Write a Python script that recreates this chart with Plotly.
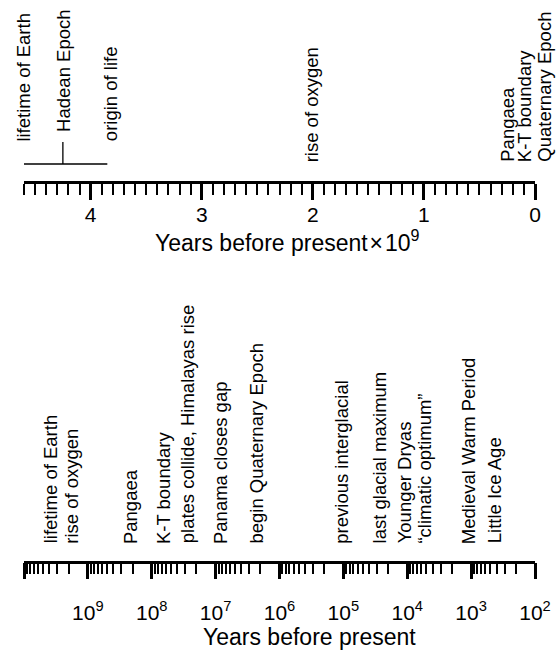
import plotly.graph_objects as go
import math

# ---------------- data ----------------
# Top panel (linear, years before present x 10^9)
top_labels = ["lifetime of Earth", "Hadean Epoch", "origin of life", "rise of oxygen",
              "Pangaea", "K-T boundary", "Quaternary Epoch"]
top_ages = [4.59, 4.25, 3.82, 2.0, 0.25, 0.066, 0.0026]
hadean_span = [4.6, 3.85]
hadean_mark = 4.25
top_tickvals = [4, 3, 2, 1, 0]
top_ticktext = ["4", "3", "2", "1", "0"]
top_minor_vals = [round(i * 0.1, 1) for i in range(47)]

# Bottom panel (log, years before present)
bottom_labels = ["lifetime of Earth", "rise of oxygen", "Pangaea", "K-T boundary",
                 "plates collide, Himalayas rise", "Panama closes gap",
                 "begin Quaternary Epoch", "previous interglacial",
                 "last glacial maximum", "Younger Dryas", "\u201cclimatic optimum\u201d",
                 "Medieval Warm Period", "Little Ice Age"]
bottom_ages = [3.9e9, 1.8e9, 2.2e8, 6.7e7, 2.8e7, 8.6e6, 2.3e6, 1.05e5,
               2.7e4, 1.1e4, 5.3e3, 1.1e3, 4.3e2]
bottom_tickvals = [1e10, 1e9, 1e8, 1e7, 1e6, 1e5, 1e4, 1e3, 1e2]
bottom_ticktext = ["", "10<sup>9</sup>", "10<sup>8</sup>", "10<sup>7</sup>", "10<sup>6</sup>",
                   "10<sup>5</sup>", "10<sup>4</sup>", "10<sup>3</sup>", "10<sup>2</sup>"]
bottom_minor_vals = [k * 10 ** n for n in range(2, 10) for k in range(2, 10)]

top_title = "Years before present\u200a\u00d7\u200a10<sup>9</sup>"
bottom_title = "Years before present"

# ---------------- layout / style ----------------
W, H = 557, 655
ML, MR = 24, 22
FONT = "Liberation Sans, Arial, Helvetica, sans-serif"
top_axis_px = 181.0
bot_top_px, bot_axis_px = 290.0, 560.7

# per-label style offsets (pixels)
top_xshift = [-2, 0, 0, -1, 0, -3, 9]
top_ybase = [38, 48, 39, 18, 18, 18, 18]
bottom_ybase = 16

def py2paper(py):
    return 1 - py / H

fig = go.Figure()
fig.add_trace(go.Scatter(x=[2], y=[100], mode="markers", marker=dict(opacity=0),
                         xaxis="x", yaxis="y", hoverinfo="skip", showlegend=False))
fig.add_trace(go.Scatter(x=[1e5], y=[100], mode="markers", marker=dict(opacity=0),
                         xaxis="x2", yaxis="y2", hoverinfo="skip", showlegend=False))

axis_common = dict(
    showgrid=False, zeroline=False, showline=True, linecolor="black", linewidth=2.5,
    ticks="outside", ticklen=16, tickwidth=3, tickcolor="black",
    tickfont=dict(family=FONT, size=21, color="black"),
    fixedrange=True, automargin=False,
)
minor_common = dict(ticks="outside", ticklen=11, tickwidth=1.5, tickcolor="black",
                    showgrid=False, tickmode="array")

fig.update_layout(
    width=W, height=H,
    margin=dict(l=ML, r=MR, t=0, b=0, pad=0),
    paper_bgcolor="white", plot_bgcolor="white",
    showlegend=False,
    font=dict(family=FONT, color="black"),
    xaxis=dict(
        range=[4.6, 0], anchor="y", tickmode="array",
        tickvals=top_tickvals, ticktext=top_ticktext,
        minor=dict(tickvals=top_minor_vals, **minor_common),
        ticklabelstandoff=-3,
        **axis_common,
    ),
    yaxis=dict(domain=[py2paper(top_axis_px), 1], range=[0, top_axis_px],
               visible=False, fixedrange=True),
    xaxis2=dict(
        type="log", range=[10, 2], anchor="y2", tickmode="array",
        tickvals=bottom_tickvals, ticktext=bottom_ticktext,
        minor=dict(tickvals=bottom_minor_vals, **minor_common),
        ticklabelstandoff=15,
        **axis_common,
    ),
    yaxis2=dict(domain=[py2paper(bot_axis_px), py2paper(bot_top_px)],
                range=[0, bot_axis_px - bot_top_px], visible=False, fixedrange=True),
)

ann_font = dict(family=FONT, size=18.5, color="black")
annotations = []
for lab, age, dx, yb in zip(top_labels, top_ages, top_xshift, top_ybase):
    annotations.append(dict(x=age, y=yb, xref="x", yref="y", text=lab, textangle=-90,
                            showarrow=False, xanchor="center", yanchor="bottom",
                            xshift=dx, font=ann_font, borderpad=0))
for lab, age in zip(bottom_labels, bottom_ages):
    annotations.append(dict(x=math.log10(age), y=bottom_ybase, xref="x2", yref="y2",
                            text=lab, textangle=-90, showarrow=False,
                            xanchor="center", yanchor="bottom", font=ann_font, borderpad=0))

title_font = dict(family=FONT, size=23, color="black")
annotations.append(dict(x=(287 - ML) / (W - ML - MR), y=py2paper(241), xref="paper", yref="paper",
                        text=top_title, showarrow=False, xanchor="center", yanchor="middle",
                        font=title_font))
annotations.append(dict(x=(309 - ML) / (W - ML - MR), y=py2paper(637), xref="paper", yref="paper",
                        text=bottom_title, showarrow=False, xanchor="center", yanchor="middle",
                        font=title_font))
fig.update_layout(annotations=annotations)

# Hadean Epoch bracket
fig.add_shape(type="line", xref="x", yref="y", x0=hadean_span[0], x1=hadean_span[1],
              y0=17, y1=17, line=dict(color="black", width=1.3))
fig.add_shape(type="line", xref="x", yref="y", x0=hadean_mark, x1=hadean_mark,
              y0=17, y1=39, line=dict(color="black", width=1.3))

fig.write_html("out.html", config={"displayModeBar": False},
               post_script="document.body.style.margin='0';document.body.style.overflow='hidden';")
